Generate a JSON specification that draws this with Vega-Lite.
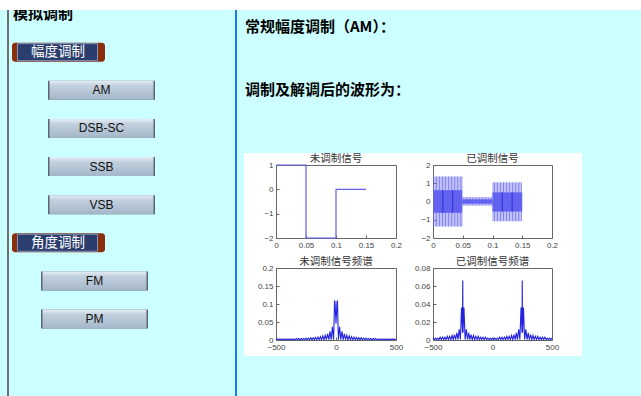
{
  "$schema": "https://vega.github.io/schema/vega-lite/v6.json",
  "background": "#ffffff",
  "padding": {"left": 0, "top": 10, "right": 0, "bottom": 0},
  "config": {
    "view": {"stroke": null},
    "axis": {"domain": false, "grid": false, "labelFontSize": 8, "labelColor": "#444", "labelFont": "Liberation Sans", "ticks": true, "tickSize": -3, "tickColor": "#666", "labelPadding": 6, "title": null, "labelFlush": false, "labelOverlap": false, "labelBound": false},
    "title": {"fontSize": 10.5, "font": "Noto Sans CJK SC", "fontWeight": "normal", "color": "#333", "offset": -3, "anchor": "middle"}
  },
  "datasets": {
    "menu": [
      {"item": "模拟调制", "kind": "title", "group": "none"},
      {"item": "幅度调制", "kind": "section", "group": "amp"},
      {"item": "AM", "kind": "button", "group": "amp"},
      {"item": "DSB-SC", "kind": "button", "group": "amp"},
      {"item": "SSB", "kind": "button", "group": "amp"},
      {"item": "VSB", "kind": "button", "group": "amp"},
      {"item": "角度调制", "kind": "section", "group": "angle"},
      {"item": "FM", "kind": "button", "group": "angle"},
      {"item": "PM", "kind": "button", "group": "angle"}
    ],
    "heads": [
      {"line": "常规幅度调制（AM）："},
      {"line": "调制及解调后的波形为："}
    ],
    "sig": [
      {"i": 1, "t": 0, "v": 1}, {"i": 2, "t": 0.05, "v": 1}, {"i": 3, "t": 0.05, "v": -2},
      {"i": 4, "t": 0.1, "v": -2}, {"i": 5, "t": 0.1, "v": 0}, {"i": 6, "t": 0.15, "v": 0}
    ],
    "modLines": [
      {"t": 0.001, "hi": 1.37, "lo": -1.37}, {"t": 0.0035, "hi": 1.37, "lo": -1.37}, {"t": 0.006, "hi": 1.37, "lo": -1.37}, {"t": 0.0085, "hi": 1.37, "lo": -1.37},
      {"t": 0.011, "hi": 1.37, "lo": -1.37}, {"t": 0.0135, "hi": 1.37, "lo": -1.37}, {"t": 0.016, "hi": 1.37, "lo": -1.37}, {"t": 0.0185, "hi": 1.37, "lo": -1.37},
      {"t": 0.021, "hi": 1.37, "lo": -1.37}, {"t": 0.0235, "hi": 1.37, "lo": -1.37}, {"t": 0.026, "hi": 1.37, "lo": -1.37}, {"t": 0.0285, "hi": 1.37, "lo": -1.37},
      {"t": 0.031, "hi": 1.37, "lo": -1.37}, {"t": 0.0335, "hi": 1.37, "lo": -1.37}, {"t": 0.036, "hi": 1.37, "lo": -1.37}, {"t": 0.0385, "hi": 1.37, "lo": -1.37},
      {"t": 0.041, "hi": 1.37, "lo": -1.37}, {"t": 0.0435, "hi": 1.37, "lo": -1.37}, {"t": 0.046, "hi": 1.37, "lo": -1.37}, {"t": 0.0485, "hi": 1.37, "lo": -1.37},
      {"t": 0.051, "hi": 0.24, "lo": -0.23}, {"t": 0.0535, "hi": 0.24, "lo": -0.23}, {"t": 0.056, "hi": 0.24, "lo": -0.23}, {"t": 0.0585, "hi": 0.24, "lo": -0.23},
      {"t": 0.061, "hi": 0.24, "lo": -0.23}, {"t": 0.0635, "hi": 0.24, "lo": -0.23}, {"t": 0.066, "hi": 0.24, "lo": -0.23}, {"t": 0.0685, "hi": 0.24, "lo": -0.23},
      {"t": 0.071, "hi": 0.24, "lo": -0.23}, {"t": 0.0735, "hi": 0.24, "lo": -0.23}, {"t": 0.076, "hi": 0.24, "lo": -0.23}, {"t": 0.0785, "hi": 0.24, "lo": -0.23},
      {"t": 0.081, "hi": 0.24, "lo": -0.23}, {"t": 0.0835, "hi": 0.24, "lo": -0.23}, {"t": 0.086, "hi": 0.24, "lo": -0.23}, {"t": 0.0885, "hi": 0.24, "lo": -0.23},
      {"t": 0.091, "hi": 0.24, "lo": -0.23}, {"t": 0.0935, "hi": 0.24, "lo": -0.23}, {"t": 0.096, "hi": 0.24, "lo": -0.23}, {"t": 0.0985, "hi": 0.24, "lo": -0.23},
      {"t": 0.101, "hi": 1.05, "lo": -1.08}, {"t": 0.1035, "hi": 1.05, "lo": -1.08}, {"t": 0.106, "hi": 1.05, "lo": -1.08}, {"t": 0.1085, "hi": 1.05, "lo": -1.08},
      {"t": 0.111, "hi": 1.05, "lo": -1.08}, {"t": 0.1135, "hi": 1.05, "lo": -1.08}, {"t": 0.116, "hi": 1.05, "lo": -1.08}, {"t": 0.1185, "hi": 1.05, "lo": -1.08},
      {"t": 0.121, "hi": 1.05, "lo": -1.08}, {"t": 0.1235, "hi": 1.05, "lo": -1.08}, {"t": 0.126, "hi": 1.05, "lo": -1.08}, {"t": 0.1285, "hi": 1.05, "lo": -1.08},
      {"t": 0.131, "hi": 1.05, "lo": -1.08}, {"t": 0.1335, "hi": 1.05, "lo": -1.08}, {"t": 0.136, "hi": 1.05, "lo": -1.08}, {"t": 0.1385, "hi": 1.05, "lo": -1.08},
      {"t": 0.141, "hi": 1.05, "lo": -1.08}, {"t": 0.1435, "hi": 1.05, "lo": -1.08}, {"t": 0.146, "hi": 1.05, "lo": -1.08}, {"t": 0.1485, "hi": 1.05, "lo": -1.08}
    ],
    "modCore": [
      {"t0": 0, "t1": 0.049, "hi": 0.62, "lo": -0.62},
      {"t0": 0.049, "t1": 0.1, "hi": 0.12, "lo": -0.12},
      {"t0": 0.1, "t1": 0.15, "hi": 0.5, "lo": -0.55}
    ],
    "modSeams": [
      {"t": 0.0165, "hi": 0.62, "lo": -0.62}, {"t": 0.033, "hi": 0.62, "lo": -0.62},
      {"t": 0.1165, "hi": 0.5, "lo": -0.55}, {"t": 0.133, "hi": 0.5, "lo": -0.55}
    ],
    "specMsg": [
      {"f": -500, "v": 0.001}, {"f": -490, "v": 0.003}, {"f": -480, "v": 0.001}, {"f": -470, "v": 0.003}, {"f": -460, "v": 0.001}, {"f": -450, "v": 0.003},
      {"f": -440, "v": 0.001}, {"f": -430, "v": 0.003}, {"f": -420, "v": 0.001}, {"f": -410, "v": 0.003}, {"f": -400, "v": 0.001}, {"f": -390, "v": 0.003},
      {"f": -380, "v": 0.001}, {"f": -370, "v": 0.003}, {"f": -360, "v": 0.001}, {"f": -350, "v": 0.003}, {"f": -340, "v": 0.001}, {"f": -330, "v": 0.004},
      {"f": -320, "v": 0.001}, {"f": -310, "v": 0.004}, {"f": -300, "v": 0.001}, {"f": -290, "v": 0.004}, {"f": -280, "v": 0.001}, {"f": -270, "v": 0.004},
      {"f": -260, "v": 0.001}, {"f": -250, "v": 0.005}, {"f": -240, "v": 0.001}, {"f": -230, "v": 0.005}, {"f": -220, "v": 0.001}, {"f": -210, "v": 0.006},
      {"f": -200, "v": 0.001}, {"f": -190, "v": 0.006}, {"f": -180, "v": 0.001}, {"f": -170, "v": 0.007}, {"f": -160, "v": 0.001}, {"f": -150, "v": 0.008},
      {"f": -140, "v": 0.001}, {"f": -130, "v": 0.009}, {"f": -120, "v": 0.001}, {"f": -110, "v": 0.011}, {"f": -100, "v": 0.001}, {"f": -90, "v": 0.013},
      {"f": -80, "v": 0.001}, {"f": -70, "v": 0.017}, {"f": -60, "v": 0.001}, {"f": -50, "v": 0.024}, {"f": -40, "v": 0.001}, {"f": -30, "v": 0.037},
      {"f": -20, "v": 0.001}, {"f": -12, "v": 0.11}, {"f": -8, "v": 0.104}, {"f": 0, "v": 0.045},
      {"f": 8, "v": 0.104}, {"f": 12, "v": 0.11}, {"f": 20, "v": 0.001}, {"f": 30, "v": 0.037}, {"f": 40, "v": 0.001}, {"f": 50, "v": 0.024}, {"f": 60, "v": 0.001},
      {"f": 70, "v": 0.017}, {"f": 80, "v": 0.001}, {"f": 90, "v": 0.013}, {"f": 100, "v": 0.001}, {"f": 110, "v": 0.011}, {"f": 120, "v": 0.001},
      {"f": 130, "v": 0.009}, {"f": 140, "v": 0.001}, {"f": 150, "v": 0.008}, {"f": 160, "v": 0.001}, {"f": 170, "v": 0.007}, {"f": 180, "v": 0.001},
      {"f": 190, "v": 0.006}, {"f": 200, "v": 0.001}, {"f": 210, "v": 0.006}, {"f": 220, "v": 0.001}, {"f": 230, "v": 0.005}, {"f": 240, "v": 0.001},
      {"f": 250, "v": 0.005}, {"f": 260, "v": 0.001}, {"f": 270, "v": 0.004}, {"f": 280, "v": 0.001}, {"f": 290, "v": 0.004}, {"f": 300, "v": 0.001},
      {"f": 310, "v": 0.004}, {"f": 320, "v": 0.001}, {"f": 330, "v": 0.004}, {"f": 340, "v": 0.001}, {"f": 350, "v": 0.003}, {"f": 360, "v": 0.001},
      {"f": 370, "v": 0.003}, {"f": 380, "v": 0.001}, {"f": 390, "v": 0.003}, {"f": 400, "v": 0.001}, {"f": 410, "v": 0.003}, {"f": 420, "v": 0.001},
      {"f": 430, "v": 0.003}, {"f": 440, "v": 0.001}, {"f": 450, "v": 0.003}, {"f": 460, "v": 0.001}, {"f": 470, "v": 0.003}, {"f": 480, "v": 0.001},
      {"f": 490, "v": 0.003}, {"f": 500, "v": 0.001}
    ],
    "specMod": [
      {"f": -500, "v": 0.002}, {"f": -490, "v": 0.0005}, {"f": -480, "v": 0.002}, {"f": -470, "v": 0.0005}, {"f": -460, "v": 0.002}, {"f": -450, "v": 0.0005},
      {"f": -440, "v": 0.003}, {"f": -430, "v": 0.0005}, {"f": -420, "v": 0.003}, {"f": -410, "v": 0.0005}, {"f": -400, "v": 0.003}, {"f": -390, "v": 0.0005},
      {"f": -380, "v": 0.004}, {"f": -370, "v": 0.0005}, {"f": -360, "v": 0.004}, {"f": -350, "v": 0.0005}, {"f": -340, "v": 0.005}, {"f": -330, "v": 0.0005},
      {"f": -320, "v": 0.006}, {"f": -310, "v": 0.0005}, {"f": -300, "v": 0.008}, {"f": -290, "v": 0.0005}, {"f": -280, "v": 0.012}, {"f": -270, "v": 0.0005},
      {"f": -260, "v": 0.036}, {"f": -252, "v": 0.008}, {"f": -250, "v": 0.066}, {"f": -248, "v": 0.008}, {"f": -240, "v": 0.036}, {"f": -230, "v": 0.0005},
      {"f": -220, "v": 0.012}, {"f": -210, "v": 0.0005}, {"f": -200, "v": 0.008}, {"f": -190, "v": 0.0005}, {"f": -180, "v": 0.006}, {"f": -170, "v": 0.0005},
      {"f": -160, "v": 0.005}, {"f": -150, "v": 0.0005}, {"f": -140, "v": 0.004}, {"f": -130, "v": 0.0005}, {"f": -120, "v": 0.004}, {"f": -110, "v": 0.0005},
      {"f": -100, "v": 0.003}, {"f": -90, "v": 0.0005}, {"f": -80, "v": 0.003}, {"f": -70, "v": 0.0005}, {"f": -60, "v": 0.003}, {"f": -50, "v": 0.0005},
      {"f": -40, "v": 0.002}, {"f": -30, "v": 0.0005}, {"f": -20, "v": 0.002}, {"f": -10, "v": 0.0005}, {"f": 0, "v": 0.002},
      {"f": 10, "v": 0.0005}, {"f": 20, "v": 0.002}, {"f": 30, "v": 0.0005}, {"f": 40, "v": 0.002}, {"f": 50, "v": 0.0005}, {"f": 60, "v": 0.003},
      {"f": 70, "v": 0.0005}, {"f": 80, "v": 0.003}, {"f": 90, "v": 0.0005}, {"f": 100, "v": 0.003}, {"f": 110, "v": 0.0005}, {"f": 120, "v": 0.004},
      {"f": 130, "v": 0.0005}, {"f": 140, "v": 0.004}, {"f": 150, "v": 0.0005}, {"f": 160, "v": 0.005}, {"f": 170, "v": 0.0005}, {"f": 180, "v": 0.006},
      {"f": 190, "v": 0.0005}, {"f": 200, "v": 0.008}, {"f": 210, "v": 0.0005}, {"f": 220, "v": 0.012}, {"f": 230, "v": 0.0005}, {"f": 240, "v": 0.036},
      {"f": 248, "v": 0.008}, {"f": 250, "v": 0.066}, {"f": 252, "v": 0.008}, {"f": 260, "v": 0.036}, {"f": 270, "v": 0.0005}, {"f": 280, "v": 0.012},
      {"f": 290, "v": 0.0005}, {"f": 300, "v": 0.008}, {"f": 310, "v": 0.0005}, {"f": 320, "v": 0.006}, {"f": 330, "v": 0.0005}, {"f": 340, "v": 0.005},
      {"f": 350, "v": 0.0005}, {"f": 360, "v": 0.004}, {"f": 370, "v": 0.0005}, {"f": 380, "v": 0.004}, {"f": 390, "v": 0.0005}, {"f": 400, "v": 0.003},
      {"f": 410, "v": 0.0005}, {"f": 420, "v": 0.003}, {"f": 430, "v": 0.0005}, {"f": 440, "v": 0.003}, {"f": 450, "v": 0.0005}, {"f": 460, "v": 0.002},
      {"f": 470, "v": 0.0005}, {"f": 480, "v": 0.002}, {"f": 490, "v": 0.0005}, {"f": 500, "v": 0.002}
    ]
  },
  "spacing": 0,
  "bounds": "flush",
  "hconcat": [
    {"width": 7, "height": 386, "view": {"fill": "#ccffff", "stroke": null}, "data": {"values": []}, "mark": "rect", "encoding": {}},
    {"width": 2, "height": 386, "view": {"fill": "#6f6f6f", "stroke": null}, "data": {"values": []}, "mark": "rect", "encoding": {}},
    {
      "width": 226, "height": 386,
      "view": {"fill": "#ccffff", "stroke": null},
      "data": {"name": "menu"},
      "encoding": {
        "y": {"field": "item", "type": "nominal", "axis": null,
          "scale": {"type": "point", "padding": 0, "domain": ["模拟调制", "幅度调制", "AM", "DSB-SC", "SSB", "VSB", "角度调制", "FM", "PM"], "range": [4, 309]}}
      },
      "layer": [
        {
          "transform": [{"filter": "datum.kind === 'title'"}],
          "mark": {"type": "text", "align": "left", "baseline": "middle", "font": "Noto Sans CJK SC", "fontSize": 15, "fontWeight": "bold", "color": "#000000", "clip": true},
          "encoding": {"x": {"datum": 4, "type": "quantitative", "scale": {"domain": [0, 226], "nice": false, "zero": false}, "axis": null}, "text": {"field": "item"}}
        },
        {
          "transform": [{"filter": "datum.kind === 'section'"}],
          "mark": {"type": "bar", "height": 19, "color": "#8b2e0e", "cornerRadius": 3},
          "encoding": {"x": {"datum": 3, "type": "quantitative"}, "x2": {"datum": 96}}
        },
        {
          "transform": [{"filter": "datum.kind === 'section'"}],
          "mark": {"type": "bar", "height": 17, "color": "#2b3d6d", "stroke": "#7f95c0", "strokeWidth": 1},
          "encoding": {"x": {"datum": 8.5, "type": "quantitative"}, "x2": {"datum": 88.5}}
        },
        {
          "transform": [{"filter": "datum.kind === 'section'"}],
          "mark": {"type": "text", "align": "center", "baseline": "middle", "font": "Noto Sans CJK SC", "fontSize": 13.5, "color": "#ffffff"},
          "encoding": {"x": {"datum": 49, "type": "quantitative"}, "text": {"field": "item"}}
        },
        {
          "transform": [{"filter": "datum.kind === 'button' && datum.group === 'amp'"}],
          "mark": {"type": "bar", "height": 19, "color": "#5d6670"},
          "encoding": {"x": {"datum": 39, "type": "quantitative"}, "x2": {"datum": 146}}
        },
        {
          "transform": [{"filter": "datum.kind === 'button' && datum.group === 'amp'"}],
          "mark": {"type": "bar", "height": 19, "color": {"gradient": "linear", "x1": 0, "y1": 0, "x2": 0, "y2": 1, "stops": [{"offset": 0, "color": "#e6eef4"}, {"offset": 0.25, "color": "#c3d1de"}, {"offset": 1, "color": "#a3b6c9"}]}},
          "encoding": {"x": {"datum": 40.5, "type": "quantitative"}, "x2": {"datum": 144.5}}
        },
        {
          "transform": [{"filter": "datum.kind === 'button' && datum.group === 'angle'"}],
          "mark": {"type": "bar", "height": 19, "color": "#5d6670"},
          "encoding": {"x": {"datum": 32, "type": "quantitative"}, "x2": {"datum": 139}}
        },
        {
          "transform": [{"filter": "datum.kind === 'button' && datum.group === 'angle'"}],
          "mark": {"type": "bar", "height": 19, "color": {"gradient": "linear", "x1": 0, "y1": 0, "x2": 0, "y2": 1, "stops": [{"offset": 0, "color": "#e6eef4"}, {"offset": 0.25, "color": "#c3d1de"}, {"offset": 1, "color": "#a3b6c9"}]}},
          "encoding": {"x": {"datum": 33.5, "type": "quantitative"}, "x2": {"datum": 137.5}}
        },
        {
          "transform": [{"filter": "datum.kind === 'button' && datum.group === 'amp'"}],
          "mark": {"type": "text", "align": "center", "baseline": "middle", "font": "Liberation Sans", "fontSize": 12, "color": "#111111"},
          "encoding": {"x": {"datum": 92.5, "type": "quantitative"}, "text": {"field": "item"}}
        },
        {
          "transform": [{"filter": "datum.kind === 'button' && datum.group === 'angle'"}],
          "mark": {"type": "text", "align": "center", "baseline": "middle", "font": "Liberation Sans", "fontSize": 12, "color": "#111111"},
          "encoding": {"x": {"datum": 85.5, "type": "quantitative"}, "text": {"field": "item"}}
        }
      ]
    },
    {"width": 2, "height": 386, "view": {"fill": "#1f78f0", "stroke": null}, "data": {"values": []}, "mark": "rect", "encoding": {}},
    {
      "spacing": 0,
      "bounds": "flush",
      "vconcat": [
        {
          "width": 404, "height": 143,
          "view": {"fill": "#ccffff", "stroke": null},
          "data": {"name": "heads"},
          "mark": {"type": "text", "align": "left", "baseline": "middle", "font": "Noto Sans CJK SC", "fontSize": 15, "fontWeight": "bold", "color": "#000000"},
          "encoding": {
            "y": {"field": "line", "type": "nominal", "axis": null, "scale": {"type": "point", "padding": 0, "domain": ["常规幅度调制（AM）：", "调制及解调后的波形为："], "range": [17, 80]}},
            "x": {"datum": 8, "type": "quantitative", "scale": {"domain": [0, 404], "nice": false, "zero": false}, "axis": null},
            "text": {"field": "line"}
          }
        },
        {
          "spacing": 0,
          "bounds": "flush",
          "hconcat": [
            {"width": 7, "height": 243, "view": {"fill": "#ccffff", "stroke": null}, "data": {"values": []}, "mark": "rect", "encoding": {}},
            {
              "spacing": 0,
              "bounds": "flush",
              "columns": 6,
              "concat": [
                {"width": 32, "height": 12, "data": {"values": []}, "mark": "rect", "encoding": {}},
                {"width": 120, "height": 12, "data": {"values": []}, "mark": "rect", "encoding": {}},
                {"width": 37, "height": 12, "data": {"values": []}, "mark": "rect", "encoding": {}},
                {"width": 119, "height": 12, "data": {"values": []}, "mark": "rect", "encoding": {}},
                {"width": 30, "height": 12, "data": {"values": []}, "mark": "rect", "encoding": {}},
                {"width": 59, "height": 12, "view": {"fill": "#ccffff", "stroke": null}, "data": {"values": []}, "mark": "rect", "encoding": {}},

                {"width": 32, "height": 73, "data": {"values": []}, "mark": "rect", "encoding": {}},
                {
                  "width": 120, "height": 73,
                  "view": {"fill": "white", "stroke": "#666"},
                  "title": {"text": "未调制信号"},
                  "data": {"name": "sig"},
                  "mark": {"type": "line", "color": "#6060e6", "strokeWidth": 1.2},
                  "encoding": {
                    "x": {"field": "t", "type": "quantitative", "scale": {"domain": [0, 0.2], "nice": false, "zero": false}, "axis": {"values": [0, 0.05, 0.1, 0.15, 0.2], "format": "~g"}},
                    "y": {"field": "v", "type": "quantitative", "scale": {"domain": [-2, 1], "nice": false, "zero": false}, "axis": {"values": [-2, -1, 0, 1], "format": "~g"}},
                    "order": {"field": "i"}
                  }
                },
                {"width": 37, "height": 73, "data": {"values": []}, "mark": "rect", "encoding": {}},
                {
                  "width": 119, "height": 73,
                  "view": {"fill": "white", "stroke": "#666"},
                  "title": {"text": "已调制信号"},
                  "layer": [
                    {
                      "data": {"name": "modCore"},
                      "mark": {"type": "rect", "color": "#6262ee"},
                      "encoding": {
                        "x": {"field": "t0", "type": "quantitative", "scale": {"domain": [0, 0.2], "nice": false, "zero": false}, "axis": {"values": [0, 0.05, 0.1, 0.15, 0.2], "format": "~g"}},
                        "x2": {"field": "t1"},
                        "y": {"field": "hi", "type": "quantitative", "scale": {"domain": [-2, 2], "nice": false, "zero": false}, "axis": {"values": [-2, -1, 0, 1, 2], "format": "~g"}},
                        "y2": {"field": "lo"}
                      }
                    },
                    {
                      "data": {"name": "modLines"},
                      "mark": {"type": "rule", "color": "#6464f2", "strokeWidth": 0.8},
                      "encoding": {
                        "x": {"field": "t", "type": "quantitative", "scale": {"domain": [0, 0.2], "nice": false, "zero": false}, "axis": {"values": [0, 0.05, 0.1, 0.15, 0.2], "format": "~g"}},
                        "y": {"field": "hi", "type": "quantitative", "scale": {"domain": [-2, 2], "nice": false, "zero": false}, "axis": {"values": [-2, -1, 0, 1, 2], "format": "~g"}},
                        "y2": {"field": "lo"}
                      }
                    },
                    {
                      "data": {"name": "modSeams"},
                      "mark": {"type": "rule", "color": "#3535dd", "strokeWidth": 1.2},
                      "encoding": {
                        "x": {"field": "t", "type": "quantitative", "scale": {"domain": [0, 0.2], "nice": false, "zero": false}, "axis": {"values": [0, 0.05, 0.1, 0.15, 0.2], "format": "~g"}},
                        "y": {"field": "hi", "type": "quantitative", "scale": {"domain": [-2, 2], "nice": false, "zero": false}, "axis": {"values": [-2, -1, 0, 1, 2], "format": "~g"}},
                        "y2": {"field": "lo"}
                      }
                    }
                  ]
                },
                {"width": 30, "height": 73, "data": {"values": []}, "mark": "rect", "encoding": {}},
                {"width": 59, "height": 73, "view": {"fill": "#ccffff", "stroke": null}, "data": {"values": []}, "mark": "rect", "encoding": {}},

                {"width": 32, "height": 30, "data": {"values": []}, "mark": "rect", "encoding": {}},
                {"width": 120, "height": 30, "data": {"values": []}, "mark": "rect", "encoding": {}},
                {"width": 37, "height": 30, "data": {"values": []}, "mark": "rect", "encoding": {}},
                {"width": 119, "height": 30, "data": {"values": []}, "mark": "rect", "encoding": {}},
                {"width": 30, "height": 30, "data": {"values": []}, "mark": "rect", "encoding": {}},
                {"width": 59, "height": 30, "view": {"fill": "#ccffff", "stroke": null}, "data": {"values": []}, "mark": "rect", "encoding": {}},

                {"width": 32, "height": 72, "data": {"values": []}, "mark": "rect", "encoding": {}},
                {
                  "width": 120, "height": 72,
                  "view": {"fill": "white", "stroke": "#666"},
                  "title": {"text": "未调制信号频谱"},
                  "data": {"name": "specMsg"},
                  "mark": {"type": "line", "color": "#2323e0", "strokeWidth": 1.1},
                  "encoding": {
                    "x": {"field": "f", "type": "quantitative", "scale": {"domain": [-500, 500], "nice": false, "zero": false}, "axis": {"values": [-500, 0, 500], "format": "~g"}},
                    "y": {"field": "v", "type": "quantitative", "scale": {"domain": [0, 0.2], "nice": false}, "axis": {"values": [0, 0.05, 0.1, 0.15, 0.2], "format": "~g"}}
                  }
                },
                {"width": 37, "height": 72, "data": {"values": []}, "mark": "rect", "encoding": {}},
                {
                  "width": 119, "height": 72,
                  "view": {"fill": "white", "stroke": "#666"},
                  "title": {"text": "已调制信号频谱"},
                  "data": {"name": "specMod"},
                  "mark": {"type": "line", "color": "#2323e0", "strokeWidth": 1.1},
                  "encoding": {
                    "x": {"field": "f", "type": "quantitative", "scale": {"domain": [-500, 500], "nice": false, "zero": false}, "axis": {"values": [-500, 0, 500], "format": "~g"}},
                    "y": {"field": "v", "type": "quantitative", "scale": {"domain": [0, 0.08], "nice": false}, "axis": {"values": [0, 0.02, 0.04, 0.06, 0.08], "format": "~g"}}
                  }
                },
                {"width": 30, "height": 72, "data": {"values": []}, "mark": "rect", "encoding": {}},
                {"width": 59, "height": 72, "view": {"fill": "#ccffff", "stroke": null}, "data": {"values": []}, "mark": "rect", "encoding": {}},

                {"width": 32, "height": 16, "data": {"values": []}, "mark": "rect", "encoding": {}},
                {"width": 120, "height": 16, "data": {"values": []}, "mark": "rect", "encoding": {}},
                {"width": 37, "height": 16, "data": {"values": []}, "mark": "rect", "encoding": {}},
                {"width": 119, "height": 16, "data": {"values": []}, "mark": "rect", "encoding": {}},
                {"width": 30, "height": 16, "data": {"values": []}, "mark": "rect", "encoding": {}},
                {"width": 59, "height": 16, "view": {"fill": "#ccffff", "stroke": null}, "data": {"values": []}, "mark": "rect", "encoding": {}},

                {"width": 32, "height": 40, "view": {"fill": "#ccffff", "stroke": null}, "data": {"values": []}, "mark": "rect", "encoding": {}},
                {"width": 120, "height": 40, "view": {"fill": "#ccffff", "stroke": null}, "data": {"values": []}, "mark": "rect", "encoding": {}},
                {"width": 37, "height": 40, "view": {"fill": "#ccffff", "stroke": null}, "data": {"values": []}, "mark": "rect", "encoding": {}},
                {"width": 119, "height": 40, "view": {"fill": "#ccffff", "stroke": null}, "data": {"values": []}, "mark": "rect", "encoding": {}},
                {"width": 30, "height": 40, "view": {"fill": "#ccffff", "stroke": null}, "data": {"values": []}, "mark": "rect", "encoding": {}},
                {"width": 59, "height": 40, "view": {"fill": "#ccffff", "stroke": null}, "data": {"values": []}, "mark": "rect", "encoding": {}}
              ]
            }
          ]
        }
      ]
    }
  ]
}
